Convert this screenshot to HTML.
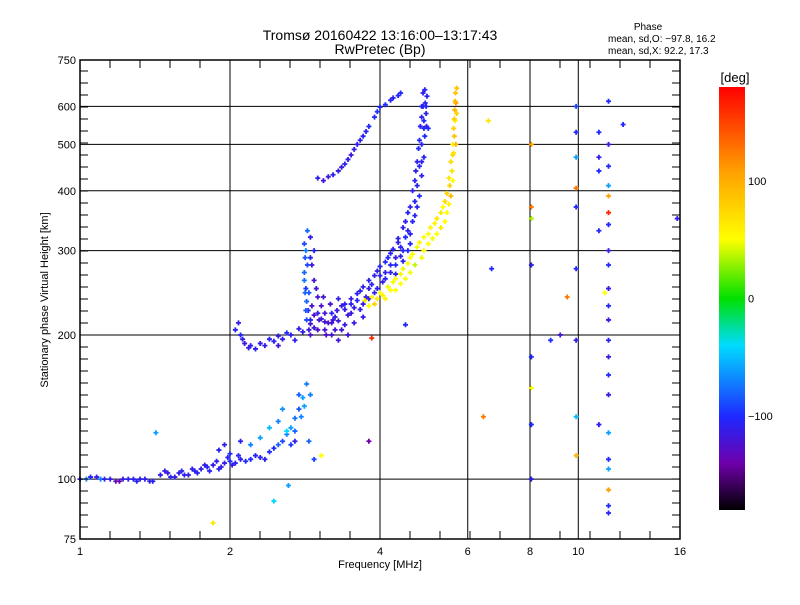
<!DOCTYPE html>
<html><head><meta charset="utf-8"><style>
body{margin:0;background:#fff}
svg text{font-family:"Liberation Sans",sans-serif;fill:#000}
</style></head><body>
<svg id="chart" width="800" height="600" xmlns="http://www.w3.org/2000/svg">
<defs><linearGradient id="cb" x1="0" y1="1" x2="0" y2="0">
<stop offset="0" stop-color="#000"/><stop offset="0.11" stop-color="#6e00aa"/><stop offset="0.22" stop-color="#1e28ff"/><stop offset="0.39" stop-color="#00dcff"/><stop offset="0.5" stop-color="#00e000"/><stop offset="0.64" stop-color="#ffff00"/><stop offset="0.8" stop-color="#ffa000"/><stop offset="1" stop-color="#ff0000"/></linearGradient></defs>
<rect width="800" height="600" fill="#fff"/>
<g id="grid"></g><g id="pts"></g><g id="axes"></g>
<text x="380" y="40" text-anchor="middle" font-size="14">Tromsø 20160422 13:16:00–13:17:43</text>
<text x="380" y="54" text-anchor="middle" font-size="14">RwPretec (Bp)</text>
<text x="648" y="30" text-anchor="middle" font-size="10">Phase</text>
<text x="608" y="42" font-size="10">mean, sd,O: −97.8, 16.2</text>
<text x="608" y="54" font-size="10">mean, sd,X:  92.2, 17.3</text>
<text transform="translate(48,300) rotate(-90)" text-anchor="middle" font-size="11">Stationary phase Virtual Height [km]</text>
<text x="380" y="568" text-anchor="middle" font-size="11">Frequency [MHz]</text>
<text x="735" y="82" text-anchor="middle" font-size="13">[deg]</text>
<rect x="719" y="87" width="26" height="423" fill="url(#cb)"/>
<g id="cbticks"></g>
</svg>
<script>
const xTicks=[1,2,4,6,8,10,16];
const yTicks=[75,100,200,300,400,500,600,750];
const gridX=[2,4,6,8,10];
const gridY=[100,200,300,400,500,600];
const cbTicks=[100,0,-100];
// [frequency MHz, height km, phase deg]
const oTrace=[[2.08,212,-110],[2.1,200,-105],[2.14,192,-115],[2.2,190,-108],[2.3,192,-110],[2.4,196,-105],[2.5,199,-112],[2.6,202,-100],[2.75,206,-110],[2.9,211,-120],[3.05,216,-115],[3.2,222,-105],[3.35,230,-110],[3.5,238,-112],[3.65,247,-108],[3.8,260,-105],[3.95,272,-110],[4.1,284,-100],[4.2,296,-105],[4.35,312,-110],[4.45,335,-108],[4.55,360,-105],[4.65,400,-110],[4.72,440,-105],[4.78,490,-100],[4.82,545,-108],[4.85,600,-105],[4.88,640,-110],
[2.5,190,-118],[2.7,195,-110],[2.9,200,-125],[3.1,205,-120],[3.3,214,-115],[3.5,222,-118],[3.7,232,-110],[3.9,245,-108],[4.1,262,-105],[4.3,280,-100],[4.45,300,-105],[4.6,325,-108],[4.7,355,-105],[4.8,390,-100],[4.85,430,-110],[4.9,470,-105],[4.92,520,-100],[4.95,580,-108],[4.97,630,-105],
[3.0,222,-112],[3.2,212,-118],[3.4,226,-110],[3.6,236,-105],[3.8,250,-112],[4.0,266,-108],[4.2,280,-105],[4.4,292,-110],[4.6,310,-100],[4.75,370,-105],[4.85,460,-108],[4.9,560,-102],[4.93,610,-105]];
const oTrace2=[[2.05,205,-105],[2.12,196,-110],[2.18,188,-112],[2.25,187,-108],[2.35,190,-110],[2.45,194,-105],[2.55,196,-110],[2.65,200,-108],[2.8,203,-112],[2.95,207,-118],[3.1,213,-120],[3.25,218,-112],[3.4,232,-108],[3.45,220,-115],[3.55,228,-110],[3.6,244,-105],[3.7,252,-108],[3.75,240,-112],[3.85,255,-105],[3.9,266,-110],[4.0,278,-105],[4.05,258,-110],[4.15,290,-100],[4.2,270,-108],[4.25,302,-105],[4.3,290,-110],[4.35,318,-108],[4.4,305,-105],[4.5,320,-100],[4.5,345,-110],[4.55,330,-105],[4.6,370,-108],[4.65,345,-105],[4.7,380,-102],[4.7,420,-108],[4.75,410,-105],[4.75,460,-110],[4.8,450,-105],[4.8,510,-100],[4.85,500,-108],[4.85,570,-105],[4.9,540,-102],[4.88,600,-108],[4.92,650,-105],[4.95,600,-100],[4.96,545,-110],
[3.3,238,-110],[3.5,232,-105],[3.65,226,-110],[3.8,238,-108],[3.95,250,-105],[4.1,270,-110],[4.3,268,-105],[4.45,285,-108],[4.55,300,-100]];
const cusp=[[2.82,310,-90],[2.83,290,-85],[2.82,270,-80],[2.84,250,-95],[2.85,235,-80],[2.87,225,-100],[2.9,215,-110],[2.95,260,-120],[2.92,280,-115],[3.0,240,-120],[3.05,230,-125],[3.1,222,-118],[3.15,212,-122],[3.25,205,-120],[3.4,210,-115],[3.0,205,-125],[3.2,200,-120],[3.3,195,-118],[3.55,212,-112],[3.7,218,-115],[2.95,300,-105],[2.9,320,-110],[2.86,330,-80],[2.84,300,-70],[2.88,245,-85],
[2.82,260,-75],[2.83,245,-80],[2.84,225,-85],[2.85,215,-90],[2.88,205,-115],[2.92,230,-120],[2.95,220,-125],[2.98,250,-118],[3.02,215,-120],[3.08,240,-118],[3.12,200,-125],[3.18,232,-120],[3.22,215,-118],[3.28,225,-115],[3.35,205,-120],[3.45,200,-118],[2.9,290,-105],[2.86,280,-90]];
const upper=[[3.0,425,-110],[3.15,428,-115],[3.3,440,-110],[3.4,455,-105],[3.5,475,-115],[3.6,500,-110],[3.7,520,-105],[3.8,545,-100],[3.95,585,-95],[4.1,605,-100],[4.25,625,-105],[4.4,640,-100],
[3.08,420,-120],[3.22,432,-110],[3.35,448,-115],[3.45,465,-110],[3.55,488,-110],[3.65,510,-108],[3.75,532,-105],[3.9,570,-100],[4.0,598,-100],[4.2,618,-105],[4.35,632,-102]];
const xTrace=[[3.73,236,110],[3.85,240,105],[4.0,245,100],[4.15,252,95],[4.3,262,100],[4.45,275,90],[4.6,290,100],[4.75,305,95],[4.9,320,100],[5.05,335,105],[5.2,350,110],[5.35,370,100],[5.45,395,120],[5.5,425,110],[5.55,460,115],[5.6,500,105],[5.62,540,120],[5.65,590,130],[5.67,640,125],
[3.9,232,120],[4.1,238,105],[4.3,248,100],[4.5,262,95],[4.7,280,70],[4.9,300,100],[5.1,318,95],[5.3,335,110],[5.45,360,100],[5.55,390,130],[5.6,420,100],[5.62,480,110],[5.66,560,105],[5.68,610,140]];
const xTrace2=[[3.8,230,100],[3.95,238,110],[4.05,242,105],[4.2,248,100],[4.25,258,95],[4.4,268,105],[4.4,256,100],[4.55,282,100],[4.6,270,95],[4.65,295,100],[4.8,312,105],[4.85,290,95],[5.0,325,100],[5.0,310,100],[5.15,342,105],[5.2,325,100],[5.3,360,110],[5.4,345,100],[5.4,380,115],[5.5,375,105],[5.52,410,120],[5.58,440,110],[5.6,475,115],[5.64,520,125],[5.64,565,120],[5.66,615,130],[5.7,655,125],[5.7,580,120],[5.68,500,130]];
const eTrace=[[1.0,100,-110],[1.05,101,-105],[1.1,100,-70],[1.15,100,-110],[1.2,99,-140],[1.25,100,-110],[1.3,99,-105],[1.35,100,-110],[1.4,99,-105],[1.45,102,-110],[1.5,103,-115],[1.55,101,-110],[1.6,104,-105],[1.65,102,-110],[1.7,104,-108],[1.75,105,-110],[1.8,106,-100],[1.85,107,-110],[1.9,105,-105],[1.95,108,-110],[2.0,109,-100],[2.05,108,-105],[2.1,110,-110],[2.2,110,-100],[2.3,111,-105],[2.4,114,-100],[2.5,118,-80],[2.6,124,-70],[2.65,128,-60],[2.7,134,-75],[2.75,140,-85],[2.8,148,-60],[2.85,158,-70],
[1.9,115,-105],[1.95,118,-110],[2.0,113,-100],[2.1,120,-105],[2.2,118,-70],[2.3,122,-60],[2.4,128,-50],[2.5,132,-70],[2.6,126,-40],[2.7,120,-110],[2.55,140,-65],[2.75,150,-80],[1.42,125,-60],[2.45,90,-40],[2.62,97,-60],[3.05,112,100],[1.85,81,110],
[1.03,100,-70],[1.08,101,-110],[1.12,100,-105],[1.18,99,-130],[1.22,100,-110],[1.28,100,-105],[1.32,100,-110],[1.38,99,-108],[1.48,104,-110],[1.52,101,-105],[1.58,103,-110],[1.62,102,-108],[1.68,105,-110],[1.72,103,-105],[1.78,107,-110],[1.82,104,-105],[1.88,109,-108],[1.92,106,-110],[1.98,111,-105],[2.02,107,-110],[2.08,112,-105],[2.15,109,-100],[2.25,112,-105],[2.35,110,-108],[2.45,116,-100],[2.55,120,-90],[2.65,118,-95],[2.7,126,-80],[2.78,135,-70],[2.82,142,-60],[2.9,150,-70],[2.88,120,-80],[2.95,110,-90]];
const scatter=[[8.05,500,140],[8.05,370,150],[8.05,350,60],[8.05,280,-110],[8.05,180,-100],[8.05,155,100],[8.05,130,-100],[8.05,100,-110],[9.9,600,-90],[9.9,530,-100],[9.9,470,-60],[9.9,405,150],[9.9,370,-100],[9.9,275,-100],[9.9,195,-110],[9.9,135,-50],[9.9,112,130],
[11.5,615,-100],[11.5,500,-110],[11.5,450,-100],[11.5,410,-60],[11.5,390,140],[11.5,360,170],[11.5,340,-100],[11.5,300,-110],[11.5,280,-100],[11.5,250,-110],[11.5,230,-100],[11.5,215,-110],[11.5,195,-105],[11.5,180,-110],[11.5,165,-100],[11.5,150,-110],[11.5,125,-60],[11.5,110,-100],[11.5,105,-60],[11.5,95,140],[11.5,88,-100],[11.5,85,-105],
[11,530,-100],[11,470,-110],[11,440,-100],[11,330,-100],[11,130,-110],[6.7,275,-100],[6.6,560,110],[12.3,550,-100],[15.8,350,-110],[9.5,240,150],[9.2,200,-120],[8.8,195,-100],[5.0,540,-100],[4.5,210,-100],[3.85,197,170],[3.8,120,-140],[6.45,135,150],[11.3,245,100]];

const L=80,R=680,T=60,B=539;
function sx(f){return L+(R-L)*Math.log2(f)/4;}
function sy(h){return B-(B-T)*Math.log2(h/75)/Math.log2(10);}
function pcol(p){
  const st=[[-180,0,0,0],[-140,110,0,170],[-100,30,40,255],[-40,0,220,255],[0,0,224,0],[50,150,240,0],[100,255,255,0],[140,255,160,0],[180,255,0,0]];
  p=Math.max(-180,Math.min(180,p));
  for(let i=0;i<st.length-1;i++){const a=st[i],b=st[i+1];if(p<=b[0]){const t=(p-a[0])/(b[0]-a[0]);return`rgb(${Math.round(a[1]+t*(b[1]-a[1]))},${Math.round(a[2]+t*(b[2]-a[2]))},${Math.round(a[3]+t*(b[3]-a[3]))})`;}}
  return'red';
}
const NS="http://www.w3.org/2000/svg";
function mk(tag,at,parent){const e=document.createElementNS(NS,tag);for(const k in at)e.setAttribute(k,at[k]);parent.appendChild(e);return e;}
const grid=document.getElementById('grid'),axes=document.getElementById('axes'),pts=document.getElementById('pts');
gridX.forEach(f=>{const e=mk('line',{x1:sx(f),x2:sx(f),y1:T,y2:B,stroke:'#000','stroke-width':1},grid);

});
gridY.forEach(h=>{const e=mk('line',{x1:L,x2:R,y1:sy(h),y2:sy(h),stroke:'#000','stroke-width':1},grid);

});
const fr=mk('rect',{x:L,y:T,width:R-L,height:B-T,fill:'none',stroke:'#000','stroke-width':1.5},axes);


for(let k=1;k<20;k++){const x=L+k*30;mk('line',{x1:x,x2:x,y1:B,y2:B-8,stroke:'#000'},axes);mk('line',{x1:x,x2:x,y1:T,y2:T+8,stroke:'#000'},axes);}
for(let y=B-12;y>T;y-=12){mk('line',{x1:L,x2:L+8,y1:y,y2:y,stroke:'#000'},axes);mk('line',{x1:R,x2:R-8,y1:y,y2:y,stroke:'#000'},axes);}
xTicks.forEach(f=>{const t=mk('text',{x:sx(f),y:B+16,'text-anchor':'middle','font-size':11},axes);t.textContent=f;

});
yTicks.forEach(h=>{const t=mk('text',{x:L-4,y:sy(h)+4,'text-anchor':'end','font-size':11},axes);t.textContent=h;

});
const cbg=document.getElementById('cbticks');
cbTicks.forEach(p=>{const y=298.5-p*423/360;const t=mk('text',{x:748,y:y+4,'font-size':11},cbg);t.textContent=p===-100?'−100':p;

});
function plot(arr,name){arr.forEach(d=>{const x=sx(d[0]),y=sy(d[1]),c=pcol(d[2]);
const g=mk('path',{d:`M${x-2.5},${y}H${x+2.5}M${x},${y-2.5}V${y+2.5}`,stroke:c,'stroke-width':1.8},pts);

});}
plot(eTrace,'e-layer-point');plot(oTrace,'o-trace-point');plot(oTrace2,'o-trace-point');plot(cusp,'cusp-point');plot(upper,'upper-branch-point');plot(xTrace,'x-trace-point');plot(xTrace2,'x-trace-point');plot(scatter,'scatter-point');
</script>
</body></html>
